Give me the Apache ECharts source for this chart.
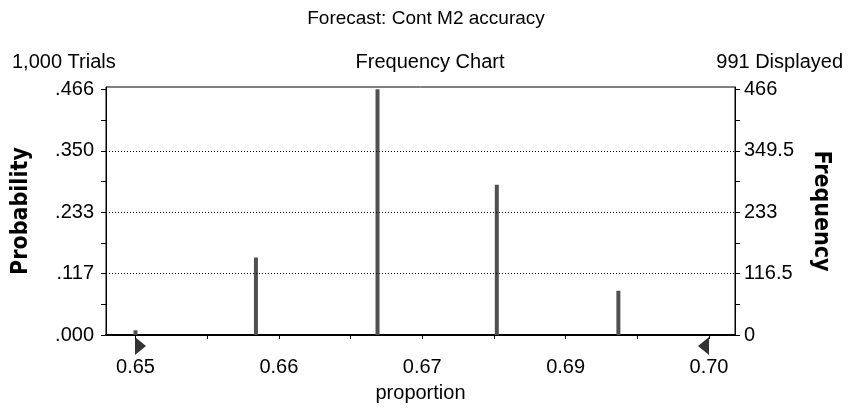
<!DOCTYPE html>
<html>
<head>
<meta charset="utf-8">
<script src="https://cdn.jsdelivr.net/npm/echarts@6/dist/echarts.min.js"></script>
<style>
html,body{margin:0;padding:0;background:#fff;}
#chart{width:851px;height:408px;}
</style>
</head>
<body>
<div id="chart"></div>
<script>
// ---- data ----
var proportions = [0.6500, 0.6605, 0.6711, 0.6815, 0.6921];
var frequencies = [9, 147, 466, 285, 84];
var xTickValues = [0.65, 0.65625, 0.6625, 0.66875, 0.675, 0.68125, 0.6875, 0.69375, 0.70];
var xLabelValues = [0.65, 0.6625, 0.675, 0.6875, 0.70];
var xLabelTexts = ['0.65', '0.66', '0.67', '0.69', '0.70'];
var yTickValues = [0, 58.25, 116.5, 174.75, 233, 291.25, 349.5, 407.75, 466];
var yLabelValues = [0, 116.5, 233, 349.5, 466];
var probLabels = ['.000', '.117', '.233', '.350', '.466'];
var freqLabels = ['0', '116.5', '233', '349.5', '466'];
var gridValues = [116.5, 233, 349.5];
var certaintyMarks = [0.65, 0.70];

var FONT = "'Liberation Sans', Arial, Helvetica, sans-serif";
var NARROW = "'Liberation Sans Narrow', 'DejaVu Sans Condensed', 'Liberation Sans', sans-serif";

function lookup(vals, texts, v) {
  var best = 0, bd = Infinity;
  for (var i = 0; i < vals.length; i++) {
    var d = Math.abs(vals[i] - v);
    if (d < bd) { bd = d; best = i; }
  }
  return bd < 1e-6 * Math.max(1, Math.abs(v)) + 1e-9 ? texts[best] : '';
}

var chart = echarts.init(document.getElementById('chart'), null, {renderer: 'canvas'});

var barData = proportions.map(function (p, i) { return [p, frequencies[i]]; });

var titleStyle = {fontFamily: FONT, fontSize: 20, fontWeight: 'normal', color: '#000'};

var option = {
  animation: false,
  backgroundColor: '#fff',
  title: [
    {text: 'Forecast: Cont M2 accuracy', left: 421, top: 4, textAlign: 'center',
     textStyle: {fontFamily: FONT, fontSize: 19, fontWeight: 'normal', color: '#000'}},
    {text: '1,000 Trials', left: 7, top: 47, textStyle: titleStyle},
    {text: 'Frequency Chart', left: 425, top: 47, textAlign: 'center', textStyle: titleStyle},
    {text: '991 Displayed', right: 3, top: 47, textStyle: titleStyle}
  ],
  grid: {left: 106, right: 116, top: 87, bottom: 70, show: true, borderColor: '#000', borderWidth: 1, backgroundColor: '#fff'},
  xAxis: {
    type: 'value', min: 0.647428, max: 0.702267,
    name: 'proportion', nameLocation: 'middle', nameGap: 48,
    nameTextStyle: {fontFamily: FONT, fontSize: 20, color: '#000'},
    axisLine: {show: true, onZero: false, lineStyle: {color: '#000', width: 2}},
    axisTick: {show: true, customValues: xTickValues, length: 4, lineStyle: {color: '#000'}},
    axisLabel: {show: true, customValues: xLabelValues, margin: 22,
      fontFamily: FONT, fontSize: 20, color: '#000',
      formatter: function (v) { return lookup(xLabelValues, xLabelTexts, v); }},
    splitLine: {show: false}
  },
  yAxis: [
    {
      type: 'value', min: 0, max: 470.5, position: 'left',
      name: 'Probability', nameLocation: 'middle', nameGap: 73, nameRotate: 90,
      nameTextStyle: {fontFamily: NARROW, fontSize: 23, fontWeight: 'bold', color: '#000'},
      axisLine: {show: true, lineStyle: {color: '#000', width: 1}},
      axisTick: {show: true, customValues: yTickValues, length: 5, lineStyle: {color: '#000'}},
      axisLabel: {show: true, customValues: yLabelValues, margin: 12,
        fontFamily: FONT, fontSize: 20, color: '#000',
        formatter: function (v) { return lookup(yLabelValues, probLabels, v); }},
      splitLine: {show: false}
    },
    {
      type: 'value', min: 0, max: 470.5, position: 'right',
      name: 'Frequency', nameLocation: 'middle', nameGap: 74, nameRotate: -90,
      nameTextStyle: {fontFamily: NARROW, fontSize: 23, fontWeight: 'bold', color: '#000'},
      axisLine: {show: true, lineStyle: {color: '#000', width: 1}},
      axisTick: {show: true, customValues: yTickValues, length: 5, lineStyle: {color: '#000'}},
      axisLabel: {show: true, customValues: yLabelValues, margin: 9,
        fontFamily: FONT, fontSize: 20, color: '#000',
        formatter: function (v) { return lookup(yLabelValues, freqLabels, v); }},
      splitLine: {show: false}
    }
  ],
  series: [
    {
      type: 'bar', yAxisIndex: 0, data: barData, barWidth: 4,
      itemStyle: {color: '#505050'},
      silent: true,
      markLine: {
        silent: true, symbol: ['none', 'none'], label: {show: false},
        lineStyle: {color: '#000', type: [1, 2], width: 1},
        data: gridValues.map(function (g) { return {yAxis: g}; })
      }
    },
    {
      type: 'scatter', yAxisIndex: 0, silent: true, clip: false,
      data: [[certaintyMarks[0], 0]],
      symbol: 'triangle', symbolSize: [18, 11], symbolRotate: -90, symbolOffset: [5, 11],
      itemStyle: {color: '#000'}, z: 5
    },
    {
      type: 'scatter', yAxisIndex: 0, silent: true, clip: false,
      data: [[certaintyMarks[1], 0]],
      symbol: 'triangle', symbolSize: [18, 11], symbolRotate: 90, symbolOffset: [-5.5, 11],
      itemStyle: {color: '#000'}, z: 5
    }
  ]
};
chart.setOption(option);
</script>
</body>
</html>
